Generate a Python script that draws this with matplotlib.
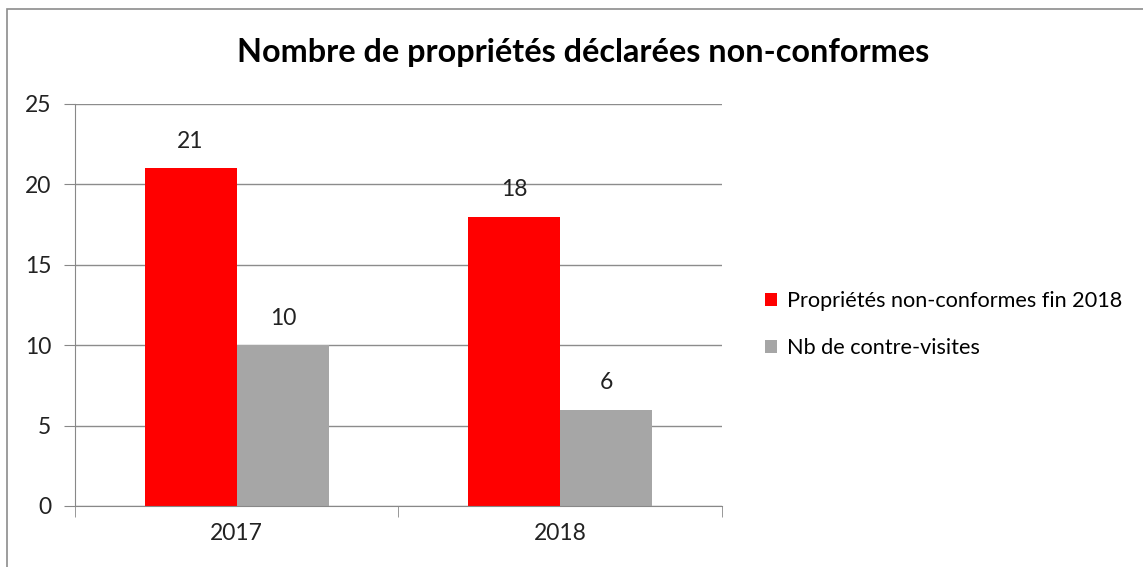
import numpy as np
import matplotlib.pyplot as plt
from matplotlib.patches import Rectangle

years = ['2017', '2018']
non_conformes = [21, 18]
contre_visites = [10, 6]
labels = ['Propriétés non-conformes fin 2018', 'Nb de contre-visites']

plt.rcParams['font.family'] = ['Lato', 'DejaVu Sans']

fig = plt.figure(figsize=(11.43, 5.67), dpi=100)
ax = fig.add_axes([0.0656, 0.1076, 0.566, 0.709])

# chart frame (cut on the right and bottom)
fig.patches.append(Rectangle((7/1143, -0.1), 1.2, 1 - 9/567 + 0.1,
                             transform=fig.transFigure, fill=False,
                             edgecolor='#8c8c8c', lw=1.2))

x = np.arange(len(years))
w = 0.285
b1 = ax.bar(x - w/2, non_conformes, w, color='#ff0000', label=labels[0])
b2 = ax.bar(x + w/2, contre_visites, w, color='#a6a6a6', label=labels[1])

for bars in (b1, b2):
    for r in bars:
        ax.text(r.get_x() + r.get_width()/2, r.get_height() + 1.0,
                str(int(r.get_height())), ha='center', va='bottom',
                fontsize=16.5, color='#222222')

ax.set_xlim(-0.5, 1.5)
ax.set_ylim(0, 25)
ax.set_yticks(range(0, 26, 5))
ax.set_xticks(x)
ax.set_xticklabels(years)
ax.set_xticks([-0.5, 0.5, 1.5], minor=True)
ax.tick_params(axis='x', which='major', length=0, pad=12, labelsize=16.5, labelcolor='#222222')
ax.tick_params(axis='x', which='minor', length=8, color='#888888')
ax.tick_params(axis='y', length=8, color='#888888', pad=9, labelsize=16.5, labelcolor='#222222')
ax.grid(axis='y', color='#8c8c8c', lw=1)
ax.set_axisbelow(True)
for s in ['top', 'right']:
    ax.spines[s].set_visible(False)
ax.spines['left'].set_color('#888888')
ax.spines['bottom'].set_color('#888888')

fig.text(0.51, 0.908, 'Nombre de propriétés déclarées non-conformes',
         ha='center', va='center', fontsize=23.3, fontweight='bold')

fig.legend(loc='center left', bbox_to_anchor=(0.652, 0.428), frameon=False,
           fontsize=15.6, handlelength=0.55, handleheight=0.55,
           labelspacing=1.25, handletextpad=0.5)

fig.savefig('out.png', dpi=100)
